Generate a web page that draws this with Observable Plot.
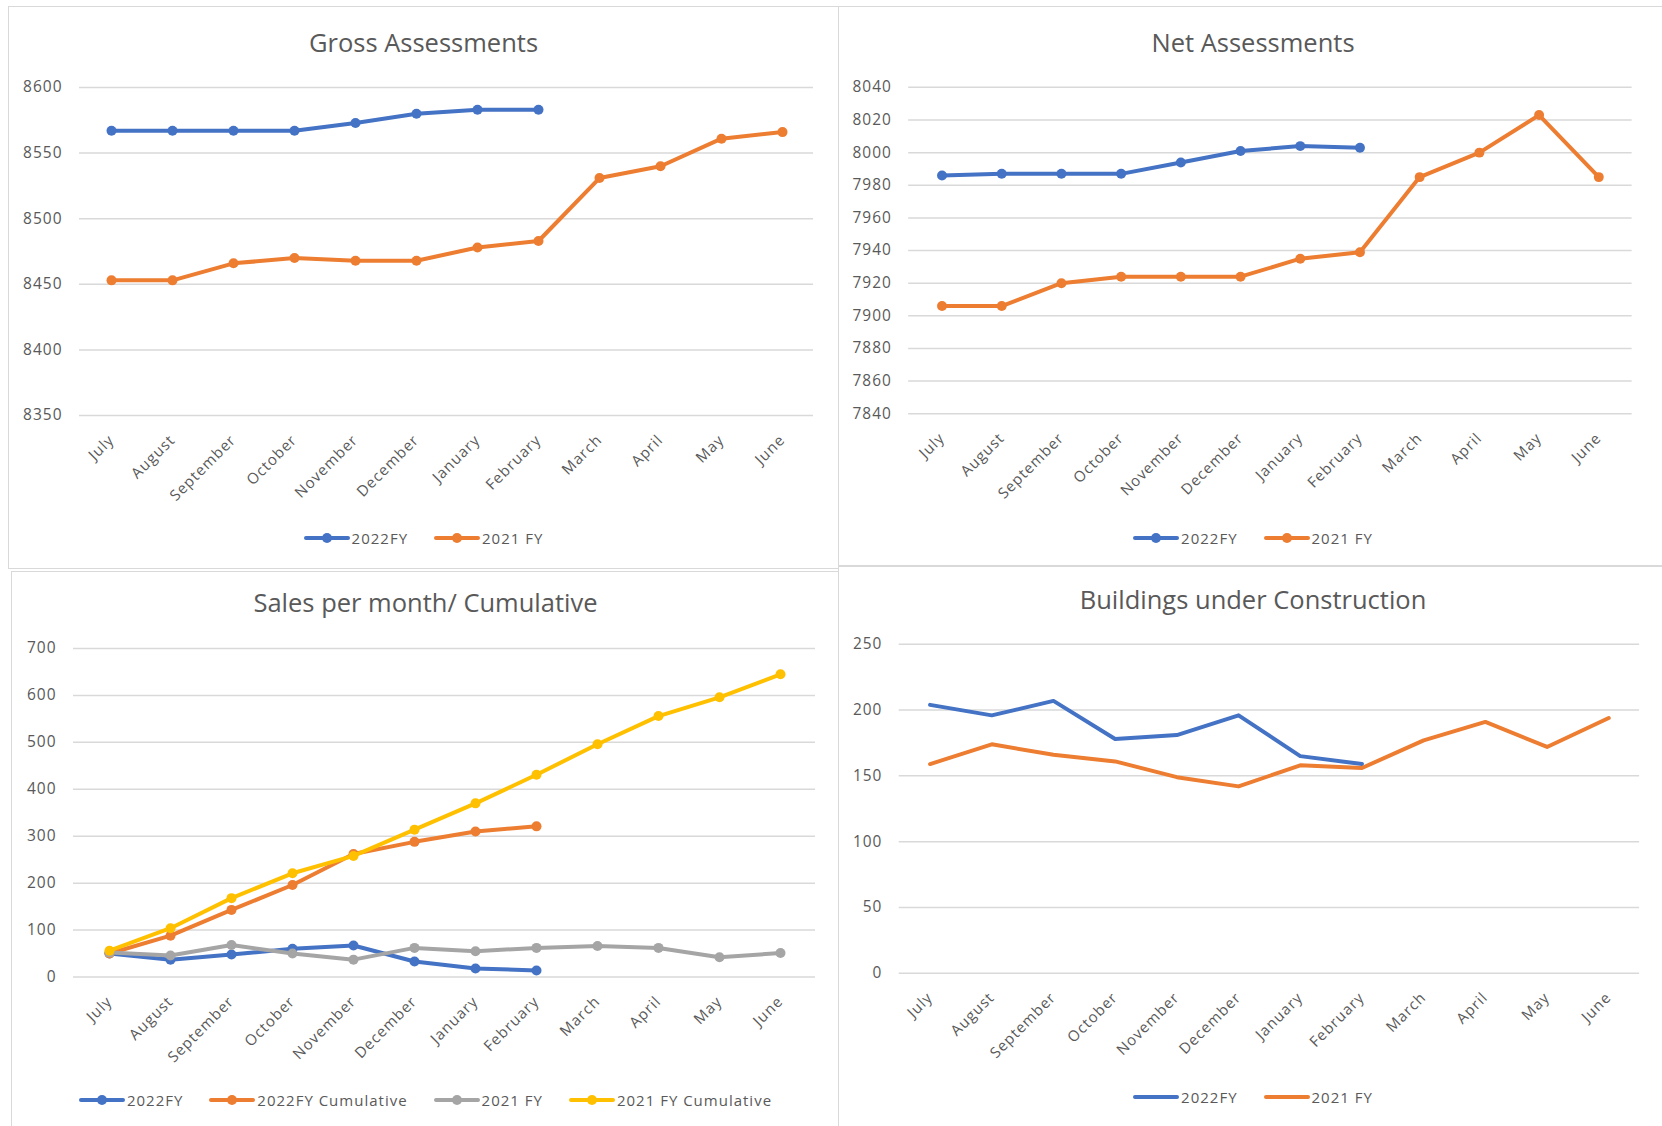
<!DOCTYPE html>
<html>
<head>
<meta charset="utf-8">
<script src="https://cdn.jsdelivr.net/npm/d3@7"></script>
<script src="https://cdn.jsdelivr.net/npm/@observablehq/plot@0.6"></script>
<style>
  html, body { margin: 0; padding: 0; background: #fff; }
  #page { position: relative; width: 1662px; height: 1126px; overflow: hidden; background: #fff; font-family: "Open Sans", sans-serif; }
  .panel { position: absolute; border: 1.5px solid #d9d9d9; box-sizing: border-box; background: #fff; }
  .title { position: absolute; text-align: center; color: #595959; font-size: 25.5px; line-height: 25.5px; white-space: nowrap; }
  .legend { position: absolute; height: 20px; display: flex; justify-content: center; align-items: center; color: #595959; font-size: 15px; letter-spacing: 1px; white-space: nowrap; }
  .legend .item { display: flex; align-items: center; margin: 0 13px; }
  .legend .item span { margin-left: 2px; }
  .plotbox { position: absolute; }
  .plotbox svg { overflow: visible; }
  .plotbox svg text { letter-spacing: 1px; }
</style>
</head>
<body>
<div id="page"></div>
<script>
// ---------- data ----------
const months = ["July","August","September","October","November","December","January","February","March","April","May","June"];

const gross2022 = [8567, 8567, 8567, 8567, 8573, 8580, 8583, 8583];
const gross2021 = [8453, 8453, 8466, 8470, 8468, 8468, 8478, 8483, 8531, 8540, 8561, 8566];
const grossTicks = [8350, 8400, 8450, 8500, 8550, 8600];

const net2022 = [7986, 7987, 7987, 7987, 7994, 8001, 8004, 8003];
const net2021 = [7906, 7906, 7920, 7924, 7924, 7924, 7935, 7939, 7985, 8000, 8023, 7985];
const netTicks = [7840, 7860, 7880, 7900, 7920, 7940, 7960, 7980, 8000, 8020, 8040];

const sales2022 = [50, 37, 48, 60, 67, 33, 18, 14];
const sales2022Cum = [50, 88, 143, 196, 262, 288, 310, 321];
const sales2021 = [52, 46, 68, 50, 37, 62, 55, 62, 66, 62, 42, 51];
const sales2021Cum = [56, 104, 168, 221, 258, 314, 370, 431, 496, 556, 596, 645];
const salesTicks = [0, 100, 200, 300, 400, 500, 600, 700];

const build2022 = [204, 196, 207, 178, 181, 196, 165, 159];
const build2021 = [159, 174, 166, 161, 149, 142, 158, 156, 177, 191, 172, 194];
const buildTicks = [0, 50, 100, 150, 200, 250];

const BLUE = "#4472C4", ORANGE = "#ED7D31", GRAY = "#A5A5A5", YELLOW = "#FFC000";

// ---------- layout ----------
const page = document.getElementById("page");

function el(tag, cls, style) {
  const e = document.createElement(tag);
  if (cls) e.className = cls;
  Object.assign(e.style, style || {});
  return e;
}

function panel(cfg) {
  const {box, plot, title, titleY, legendY, series, ticks, markers} = cfg;
  const b = el("div", "panel", {left: box.x + "px", top: box.y + "px", width: box.w + "px", height: box.h + "px"});
  page.appendChild(b);

  const t = el("div", "title", {left: box.x + "px", width: box.w + "px", top: (titleY - 13.5) + "px"});
  t.textContent = title;
  page.appendChild(t);

  const svgLeft = box.x + 2, svgTop = plot.top - 30;
  const width = Math.round(box.x + box.w - 2 - svgLeft);
  const height = Math.round(plot.bottom + 110 - svgTop);

  const marks = [
    Plot.gridY(ticks, {stroke: "#d9d9d9", strokeOpacity: 1, strokeWidth: 1.5}),
    Plot.axisY(ticks, {tickSize: 0, tickPadding: 17, fontSize: 15.5, tickFormat: d => String(d)}),
    Plot.axisX({tickSize: 0, tickRotate: -45, tickPadding: 22, fontSize: 15})
  ];
  for (const s of series) {
    marks.push(Plot.line(s.values, {x: (d, i) => months[i], y: d => d, stroke: s.color, strokeWidth: 4, strokeLinejoin: "round", strokeLinecap: "round"}));
    if (markers) marks.push(Plot.dot(s.values, {x: (d, i) => months[i], y: d => d, fill: s.color, r: 5}));
  }

  const chart = Plot.plot({
    width, height,
    marginLeft: plot.left - svgLeft,
    marginRight: svgLeft + width - plot.right,
    marginTop: plot.top - svgTop,
    marginBottom: svgTop + height - plot.bottom,
    style: {fontFamily: "'Open Sans', sans-serif", color: "#595959", background: "transparent", overflow: "visible"},
    x: {type: "point", domain: months, padding: 0.5, axis: null},
    y: {domain: cfg.domain, axis: null},
    marks
  });
  const pb = el("div", "plotbox", {left: svgLeft + "px", top: svgTop + "px"});
  pb.appendChild(chart);
  page.appendChild(pb);

  const lg = el("div", "legend", {left: box.x + "px", width: box.w + "px", top: (legendY - 10) + "px"});
  for (const s of series) {
    const it = el("div", "item");
    const sw = d3.create("svg").attr("width", 46).attr("height", 12);
    sw.append("line").attr("x1", 2).attr("x2", 44).attr("y1", 6).attr("y2", 6)
      .attr("stroke", s.color).attr("stroke-width", 4).attr("stroke-linecap", "round");
    if (markers) sw.append("circle").attr("cx", 23).attr("cy", 6).attr("r", 5).attr("fill", s.color);
    it.appendChild(sw.node());
    const sp = el("span");
    sp.textContent = s.name;
    it.appendChild(sp);
    lg.appendChild(it);
  }
  page.appendChild(lg);
}

panel({
  box: {x: 8, y: 6, w: 831, h: 563},
  plot: {left: 79, right: 813, top: 86.5, bottom: 414.5},
  title: "Gross Assessments", titleY: 43, legendY: 538,
  domain: [8350, 8600], ticks: grossTicks, markers: true,
  series: [
    {name: "2022FY", values: gross2022, color: BLUE},
    {name: "2021 FY", values: gross2021, color: ORANGE}
  ]
});

panel({
  box: {x: 838, y: 6, w: 830, h: 560},
  plot: {left: 908.5, right: 1635.5, top: 86.5, bottom: 414.5},
  title: "Net Assessments", titleY: 43, legendY: 538,
  domain: [7840, 8040], ticks: netTicks, markers: true,
  series: [
    {name: "2022FY", values: net2022, color: BLUE},
    {name: "2021 FY", values: net2021, color: ORANGE}
  ]
});

panel({
  box: {x: 11, y: 571, w: 829, h: 570},
  plot: {left: 73, right: 815, top: 647.7, bottom: 976.2},
  title: "Sales per month/ Cumulative", titleY: 603.5, legendY: 1100,
  domain: [0, 700], ticks: salesTicks, markers: true,
  series: [
    {name: "2022FY", values: sales2022, color: BLUE},
    {name: "2022FY Cumulative", values: sales2022Cum, color: ORANGE},
    {name: "2021 FY", values: sales2021, color: GRAY},
    {name: "2021 FY Cumulative", values: sales2021Cum, color: YELLOW}
  ]
});

panel({
  box: {x: 838, y: 566, w: 830, h: 575},
  plot: {left: 899, right: 1643, top: 644, bottom: 974.4},
  title: "Buildings under Construction", titleY: 600, legendY: 1097,
  domain: [0, 250], ticks: buildTicks, markers: false,
  series: [
    {name: "2022FY", values: build2022, color: BLUE},
    {name: "2021 FY", values: build2021, color: ORANGE}
  ]
});
</script>
</body>
</html>
